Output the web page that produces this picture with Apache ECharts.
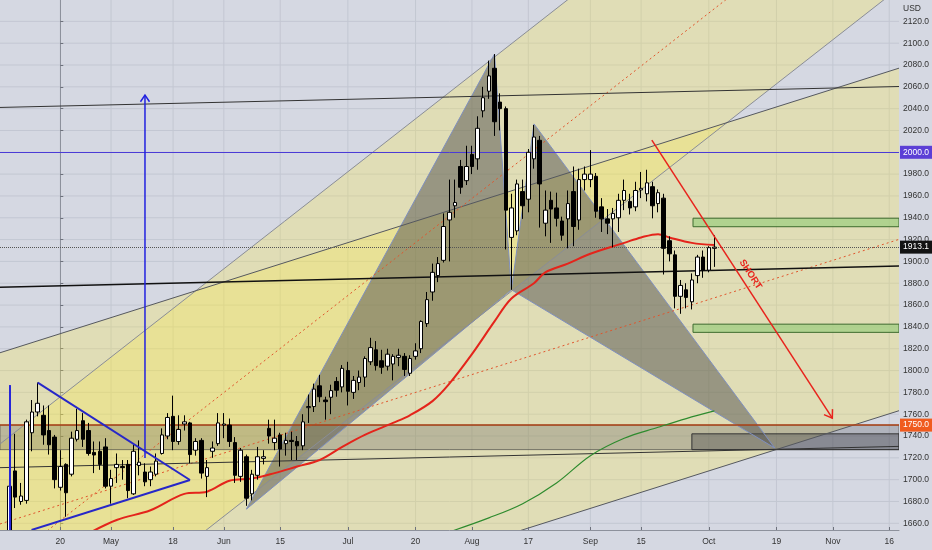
<!DOCTYPE html>
<html><head><meta charset="utf-8">
<script src="https://cdn.jsdelivr.net/npm/echarts@6/dist/echarts.min.js"></script>
<style>html,body{margin:0;padding:0;background:#d5d8e2;}#c{width:932px;height:550px;}</style>
</head><body><div id="c"></div>
<script>
// ---- data (trading-day index: 0 = Apr 20) ----
const dates = ['04-06','04-07','04-08','04-09','04-13','04-14','04-15','04-16','04-17','04-20','04-21','04-22','04-23','04-24','04-27','04-28','04-29','04-30',
'05-01','05-04','05-05','05-06','05-07','05-08','05-11','05-12','05-13','05-14','05-15','05-18','05-19','05-20','05-21','05-22','05-26','05-27','05-28','05-29',
'06-01','06-02','06-03','06-04','06-05','06-08','06-09','06-10','06-11','06-12','06-15','06-16','06-17','06-18','06-19','06-22','06-23','06-24','06-25','06-26','06-29','06-30',
'07-01','07-02','07-06','07-07','07-08','07-09','07-10','07-13','07-14','07-15','07-16','07-17','07-20','07-21','07-22','07-23','07-24','07-27','07-28','07-29','07-30','07-31',
'08-03','08-04','08-05','08-06','08-07','08-10','08-11','08-12','08-13','08-14','08-17','08-18','08-19','08-20','08-21','08-24','08-25','08-26','08-27','08-28','08-31',
'09-01','09-02','09-03','09-04','09-08','09-09','09-10','09-11','09-14','09-15','09-16','09-17','09-18','09-21','09-22','09-23','09-24','09-25','09-28','09-29','09-30',
'10-01','10-02'];
const firstIdx = -9;
// [open, close, low, high]
const ohlc = [
[1646,1694,1640,1698],[1708,1684,1674,1742],[1680,1685,1677,1697],[1681,1753,1678,1755],[1743,1762,1726,1773],[1762,1770,1758,1789],[1759,1741,1732,1768],[1745,1732,1723,1768],[1739,1700,1692,1741],
[1693,1712,1690,1727],[1714,1688,1666,1715],[1705,1738,1703,1744],[1737,1745,1735,1765],[1754,1737,1730,1761],[1745,1724,1722,1752],[1725,1722.6,1706,1735],[1726,1714,1709,1735],[1730,1694,1692,1738],
[1694,1701,1678,1709],[1711,1714,1697,1724],[1712,1711,1700,1718],[1714,1690,1683,1718],[1687,1726,1686,1732],[1713,1716,1704,1736],[1707,1698,1694,1715],[1700,1707,1694,1712],[1705,1717,1703,1724],[1724,1741,1723,1747],[1740,1757,1737,1761],
[1758,1735,1727,1777],[1735,1746,1732,1759],[1751,1753,1745,1759],[1752,1723,1715,1753],[1727,1735,1722,1738],[1736,1706,1701,1738],[1703,1711,1684,1718],[1726,1729,1720,1735],[1733,1752,1731,1761],
[1750,1751,1738,1761],[1750,1735,1730,1756],[1734,1704,1697,1739],[1703,1727,1698,1729],[1721,1683,1676,1723],[1687,1705,1681,1709],[1704,1721,1700,1730],[1719.5,1721,1714,1727],[1747,1740,1733,1755],[1734,1738,1727,1755],
[1741,1728,1712,1743],[1733,1736,1722,1743],[1736,1735,1718,1744],[1735,1731,1718,1740],[1731,1753,1727,1760],[1766,1767,1752,1778],[1767,1783,1762,1788],[1786,1776,1771,1796],[1773,1771.5,1755,1776],[1775.5,1781.6,1760,1787],[1790,1782,1776,1794],[1785,1802,1780,1805],
[1800,1781,1768,1808],[1780,1791,1774,1795],[1789,1794,1782,1800],[1794,1811,1785,1813],[1808,1821,1805,1830],[1819,1804.5,1800,1827],[1809,1803,1797,1819],[1804,1815,1800,1820],[1806,1813,1791,1815],[1812,1814,1804,1820],[1813,1801,1795,1816],[1797.5,1811,1795,1814],
[1813,1818,1810,1825],[1820,1845,1816,1846],[1843,1865,1840,1872],[1872,1890,1864,1898],[1887,1898,1881,1904],[1901,1932,1899,1944],[1938,1945,1900,1975],[1951,1954,1940,1975],[1987,1968,1962,1993],[1974,1987,1970,2006],
[1998,1987,1980,2006],[1994,2022,1984,2033],[2038,2050,2032,2060],[2056,2070,2049,2084],[2077,2028,2015,2090],[2046,2040,2020,2054],[2040,1947,1911,2042],[1922,1949,1874,1962],[1928,1971,1924,1975],[1964,1951,1939,1975],
[1957,2000,1945,2003],[1994,2014,1985,2025],[2011,1971,1931,2015],[1935,1947,1923,1965],[1956,1948,1917,1964],[1949,1939.5,1932,1963],[1937,1924,1919,1941],[1939,1953,1912,1965],[1964,1932,1914,1987],[1938,1975,1929,1985],[1975,1980,1965,1987],
[1975,1980,1968,2002],[1978,1946,1940,1981],[1950,1939,1927,1958],[1939,1935,1925,1948],[1939,1944,1913,1949],[1940,1956,1927,1962],[1956,1965,1947,1975],[1955,1949,1943,1962],[1950,1965,1946,1973],[1965.5,1967,1958,1982],[1962,1972,1955,1984],[1968.5,1951,1939.5,1973],[1953,1963,1945,1966],
[1958,1912,1888,1962],[1919,1907,1900,1923],[1906,1868,1857,1910],[1868,1878,1852,1883],[1874,1867,1857,1880],[1863,1883,1856,1889],[1887,1904,1880,1906],[1904,1892,1885,1910],
[1892,1912.6,1890,1914],[1912,1913.1,1895,1924]];
const lastPrice = 1913.1;

const xTickIdx = [0,9,20,29,39,51,63,73,83,94,103,115,127,137,147];
const xTickLabels = ['20','May','18','Jun','15','Jul','20','Aug','17','Sep','15','Oct','19','Nov','16'];
const yTicks = [1660,1680,1700,1720,1740,1760,1780,1800,1820,1840,1860,1880,1900,1920,1940,1960,1980,2000,2020,2040,2060,2080,2100,2120];

const maRed = [[4,1648],[10,1663],[16,1672],[22,1687],[26,1689],[30,1699],[34,1701],[38,1706],[42,1712],[46,1718],[50,1730],[54,1741],[59,1752],[62,1759],[66,1772],[69,1788],[73,1815],[77,1845],[80,1866],[84,1880],[86,1890],[90,1898],[94,1907],[100,1917],[103,1922],[106,1925],[108,1922],[112,1917],[116,1915]];
const maGreen = [[69.5,1653],[76,1665],[82,1678],[88,1697],[94,1722],[100,1738],[106,1748],[111,1756],[116,1763]];

// axis extents (index / price)
const X0 = -10.69, X1 = 148.73, Y0 = 1653.87, Y1 = 2139.57;

// parallel channels
const ch1Upper = [[X0,1732.7],[X1,2377.4]];
const ch1Mid   = [[X0,1619.3],[X1,2264.0]];
const ch1Lower = [[X0,1505.9],[X1,2150.6]];
const ch2Upper = [[X0,1816.3],[X1,2077.1]];
const ch2Mid   = [[X0,1659.4],[X1,1920.2]];
const ch2Lower = [[X0,1502.4],[X1,1763.2]];
const ch3Upper = [[X0,2041.1],[X1,2060.3]];
const ch3Mid   = [[X0,1876.3],[X1,1895.8]];
const ch3Lower = [[X0,1711.0],[X1,1730.5]];

// harmonic XABCD points
const ptX = [33,1673], ptA = [77,2090], ptB = [80,1874], ptC = [84,2026], ptD = [126.7,1729];

// zones
const zoneBand  = [[X0,1750],[X1,1727.5]];
const zoneDark  = [[112,1742],[X1,1727.5]];
const zoneGreen1 = [[112.2,1939.6],[X1,1931.8]];
const zoneGreen2 = [[112.2,1842.5],[X1,1835]];

// triangle (left)
const triUpper = [[-4,1789],[23,1699.7]];
const triLower = [[-5.1,1653.9],[23,1699.7]];
const blueVLine = [[-8.92,1786.7],[-8.92,1640]];
const blueArrow = [[15.02,1719.8],[15.02,2052.4]];
const redArrow = [[104.9,2011.2],[136.9,1756.4]];
const shortText = [122.4,1888];

const hLine2000 = 2000, hLine1750 = 1750;

// ---- helpers ----
function polySeries(polys, style, z) {
  return {type:'custom', clip:true, silent:true, z:z, data: polys.map((p,k)=>[k]),
    renderItem:(params, api)=>({type:'polygon', shape:{points: polys[params.dataIndex].map(pt=>api.coord(pt))}, style:style})};
}
function segSeries(segs, style, z) {
  return {type:'custom', clip:true, silent:true, z:z, data: segs.map((s,k)=>[k]),
    renderItem:(params, api)=>{const s=segs[params.dataIndex]; const a=api.coord(s[0]), b=api.coord(s[1]);
      return {type:'line', shape:{x1:a[0],y1:a[1],x2:b[0],y2:b[1]}, style:style};}};
}
function arrowSeries(seg, color, width, head, z) {
  return {type:'custom', clip:false, silent:true, z:z, data:[[0]],
    renderItem:(params, api)=>{const a=api.coord(seg[0]), b=api.coord(seg[1]);
      const ang=Math.atan2(b[1]-a[1], b[0]-a[0]), s=0.6;
      const h1=[b[0]-head*Math.cos(ang-s), b[1]-head*Math.sin(ang-s)];
      const h2=[b[0]-head*Math.cos(ang+s), b[1]-head*Math.sin(ang+s)];
      return {type:'group', children:[
        {type:'line', shape:{x1:a[0],y1:a[1],x2:b[0],y2:b[1]}, style:{stroke:color,lineWidth:width}},
        {type:'polyline', shape:{points:[h1,b,h2]}, style:{stroke:color,lineWidth:width,fill:null}}]};}};
}
const rect = r => [[r[0][0],r[0][1]],[r[1][0],r[0][1]],[r[1][0],r[1][1]],[r[0][0],r[1][1]]];

const gridSegs = xTickIdx.map(x=>[[x,Y0],[x,Y1]]).concat(yTicks.map(v=>[[X0,v],[X1,v]]));

const font = 'Liberation Sans';
const chart = echarts.init(document.getElementById('c'), null, {renderer:'canvas'});
chart.setOption({
  animation:false,
  backgroundColor:'#d5d8e2',
  grid:{left:0, top:0, right:33, bottom:20},
  xAxis:{type:'value', min:X0, max:X1, z:20,
    axisLine:{show:true, lineStyle:{color:'#8d919c', width:1}},
    axisTick:{show:true, inside:true, customValues:xTickIdx, length:3, lineStyle:{color:'#6d717c'}},
    axisLabel:{customValues:xTickIdx, formatter:v=>{const k=xTickIdx.indexOf(Math.round(v)); return k>=0?xTickLabels[k]:'';}, color:'#333', fontSize:8.5, fontFamily:font, margin:7},
    splitLine:{show:false}},
  yAxis:{type:'value', position:'right', min:Y0, max:Y1,
    axisLine:{show:true, lineStyle:{color:'#8d919c', width:1}},
    axisTick:{show:true, customValues:yTicks, length:3, lineStyle:{color:'#6d717c'}},
    axisLabel:{customValues:yTicks, formatter:v=>v.toFixed(1), color:'#333', fontSize:8.5, fontFamily:font, margin:4},
    splitLine:{show:false}},
  graphic:[
    {type:'rect', left:0, top:530.5, z:15, silent:true, shape:{width:899, height:20}, style:{fill:'#d5d8e2'}},
    {type:'text', right:11, top:4, z:21, style:{text:'USD', fill:'#333', font:'8.5px '+font}}],
  series:[
    segSeries(gridSegs, {stroke:'#c3c7d2', lineWidth:1}, 0),
    polySeries([[ch1Upper[0],ch1Upper[1],ch1Lower[1],ch1Lower[0]],[ch2Upper[0],ch2Upper[1],ch2Lower[1],ch2Lower[0]]], {fill:'rgba(255,235,59,0.26)'}, 1),
    polySeries([rect(zoneBand)], {fill:'rgba(70,70,80,0.25)', stroke:'rgba(60,60,60,0.6)', lineWidth:1}, 2),
    polySeries([rect(zoneDark)], {fill:'rgba(60,60,70,0.35)', stroke:'#333', lineWidth:1}, 2),
    polySeries([rect(zoneGreen1), rect(zoneGreen2)], {fill:'rgba(160,205,130,0.75)', stroke:'#3d6b2e', lineWidth:1}, 2),
    polySeries([[ptX,ptA,ptB],[ptB,ptC,ptD]], {fill:'rgba(80,80,78,0.5)', stroke:'#7f8fbf', lineWidth:1}, 3),
    segSeries([ch1Upper, ch1Lower], {stroke:'#8a8d96', lineWidth:1}, 4),
    segSeries([ch2Upper, ch2Lower], {stroke:'#55585f', lineWidth:1}, 4),
    segSeries([ch1Mid, ch2Mid], {stroke:'#e0552c', lineWidth:1, lineDash:[2,3]}, 4),
    segSeries([ch3Upper, ch3Lower], {stroke:'#333', lineWidth:1}, 4),
    segSeries([ch3Mid], {stroke:'#111', lineWidth:1.6}, 4),
    {type:'line', data:maGreen, showSymbol:false, smooth:0.35, silent:true, z:5, lineStyle:{color:'#2e8b2e', width:1.2}},
    {type:'line', data:maRed, showSymbol:false, smooth:0.35, silent:true, z:5, lineStyle:{color:'#e4241b', width:2}},
    {type:'line', data:[], z:5, silent:true, markLine:{silent:true, symbol:['none','none'], animation:false, data:[
      {yAxis:hLine1750, lineStyle:{color:'#b0461a', width:1.5, type:'solid'}, label:{show:true, position:'end', distance:1, formatter:'1750.0', backgroundColor:'#f05b1e', color:'#fff', padding:[2,3], fontSize:8.5, fontFamily:font}},
      {yAxis:hLine2000, lineStyle:{color:'#4b3bd6', width:1, type:'solid'}, label:{show:true, position:'end', distance:1, formatter:'2000.0', backgroundColor:'#5b3fd6', color:'#fff', padding:[2,3], fontSize:8.5, fontFamily:font}},
      {yAxis:lastPrice, lineStyle:{color:'#555', width:1, type:'dotted'}, label:{show:true, position:'end', distance:1, formatter:lastPrice.toFixed(1), backgroundColor:'#131313', color:'#fff', padding:[2,3], fontSize:8.5, fontFamily:font}}
    ]}},
    {type:'candlestick', z:6, barWidth:4, silent:true, clip:true,
      data: ohlc.map((r,k)=>[k+firstIdx, r[0], r[1], r[2], r[3]]),
      itemStyle:{color:'#ffffff', color0:'#000000', borderColor:'#000000', borderColor0:'#000000', borderWidth:1}},
    segSeries([triUpper, triLower], {stroke:'#2727c8', lineWidth:2}, 7),
    segSeries([blueVLine], {stroke:'#2727d8', lineWidth:2}, 7),
    arrowSeries(blueArrow, '#2121e0', 1.5, 8, 7),
    arrowSeries(redArrow, '#e8231c', 1.5, 9, 7),
    {type:'custom', clip:false, silent:true, z:8, data:[[0]],
      renderItem:(params, api)=>{const p=api.coord(shortText); return {type:'text', x:p[0], y:p[1], rotation:-57*Math.PI/180,
        style:{text:'SHORT', fill:'#e8231c', font:'bold 9.5px '+font, align:'center', verticalAlign:'middle'}};}}
  ]
});
</script></body></html>
